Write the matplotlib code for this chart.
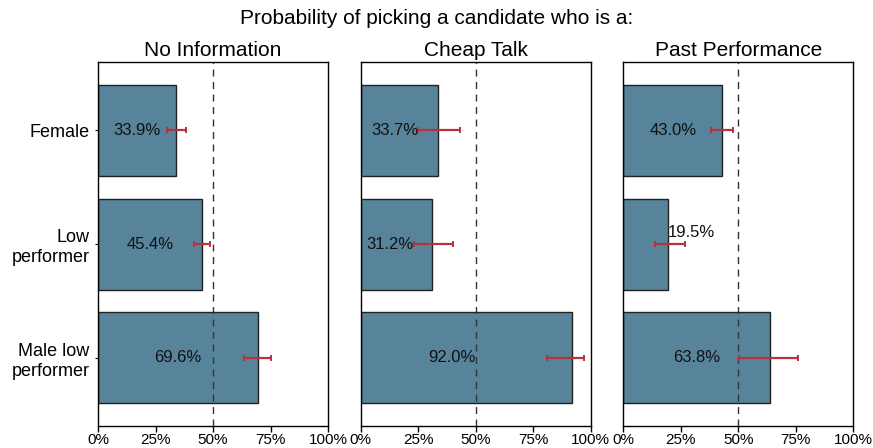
import matplotlib.pyplot as plt
import numpy as np

plt.rcParams['font.family'] = ['Liberation Sans', 'DejaVu Sans']

# Data
categories = ['Female', 'Low\nperformer', 'Male low\nperformer']
panels = ['No Information', 'Cheap Talk', 'Past Performance']

no_info = [33.9, 45.4, 69.6]
cheap_talk = [33.7, 31.2, 92.0]
past_perf = [43.0, 19.5, 63.8]

# Confidence intervals (low, high) per panel
no_info_ci_low = [29.9, 41.7, 63.6]
no_info_ci_high = [38.3, 48.7, 75.0]
cheap_talk_ci_low = [25.1, 23.2, 80.9]
cheap_talk_ci_high = [43.2, 40.0, 97.2]
past_perf_ci_low = [38.0, 13.7, 50.1]
past_perf_ci_high = [47.7, 26.6, 75.9]

x_ticks = [0, 25, 50, 75, 100]
x_tick_labels = ['0%', '25%', '50%', '75%', '100%']

# Where each value label sits (x in %, y offset in category units)
label_x = [[16.9, 22.5, 34.7], [14.7, 12.5, 39.6], [21.5, 29.5, 31.9]]
label_dy = [[0, 0, 0], [0, 0, 0], [0, -0.1, 0]]

values = [no_info, cheap_talk, past_perf]
ci_lows = [no_info_ci_low, cheap_talk_ci_low, past_perf_ci_low]
ci_highs = [no_info_ci_high, cheap_talk_ci_high, past_perf_ci_high]

bar_color = '#57849A'
err_color = '#B5323F'

fig = plt.figure(figsize=(8.73, 4.48), dpi=100)
lefts = [0.1123, 0.4132, 0.7140]

y = np.arange(len(categories))
for i, name in enumerate(panels):
    ax = fig.add_axes([lefts[i], 0.0491, 0.2635, 0.8125])
    vals = np.array(values[i])
    lo = np.array(ci_lows[i])
    hi = np.array(ci_highs[i])
    ax.barh(y, vals, height=0.8, color=bar_color, edgecolor='#222222',
            linewidth=1.0, zorder=2)
    ax.axvline(50, color='#333333', linewidth=1.0, dashes=(5, 4), zorder=3)
    mid = (lo + hi) / 2
    ax.errorbar(mid, y, xerr=(hi - lo) / 2, fmt='none', ecolor=err_color,
                elinewidth=1.6, capsize=2.5, capthick=1.4, zorder=4)
    for j, v in enumerate(vals):
        ax.text(label_x[i][j], y[j] + label_dy[i][j], f'{v:.1f}%',
                ha='center', va='center', fontsize=12, color='#111111', zorder=5)

    ax.set_xlim(0, 100)
    ax.set_ylim(2.6, -0.6)
    ax.set_xticks(x_ticks)
    ax.set_xticklabels(x_tick_labels, fontsize=11)
    ax.tick_params(axis='x', length=4, width=1, pad=1)
    ax.set_yticks(y)
    if i == 0:
        ax.set_yticklabels(categories, fontsize=13, multialignment='right',
                           linespacing=1.25)
        ax.tick_params(axis='y', length=2, width=0.8, pad=4)
    else:
        ax.set_yticklabels([])
        ax.tick_params(axis='y', length=0)
    for s in ax.spines.values():
        s.set_linewidth(1.0)
    ax.set_title(name, fontsize=15, pad=4)

fig.text(0.5, 0.958, 'Probability of picking a candidate who is a:',
         ha='center', va='center', fontsize=15)

fig.savefig('out.png', dpi=100)
